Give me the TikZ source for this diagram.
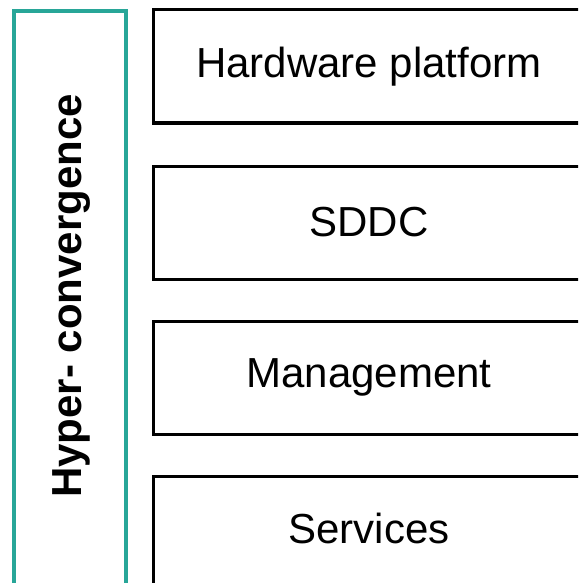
\documentclass[tikz,border=0pt]{standalone}
\usepackage{fontspec}
\setmainfont{Liberation Sans}
\definecolor{hcteal}{RGB}{40,166,152}
\begin{document}
\begin{tikzpicture}[x=1pt,y=-1pt,
  layerbox/.style={draw=black,line width=3pt,rectangle,minimum width=434pt,minimum height=113pt,inner sep=0pt,anchor=north west},
  hcbox/.style={draw=hcteal,line width=3.6pt,rectangle,minimum width=112pt,minimum height=590pt,inner sep=0pt,anchor=north west},
  lbl/.style={font=\fontsize{42}{50}\selectfont,anchor=base,inner sep=0pt}]
\useasboundingbox (0,0) rectangle (578,583);
\clip (0,0) rectangle (578,583);
\node[hcbox] (hc) at (12,9) {};
\node[layerbox] (b1) at (152,8.5) {};
\node[layerbox] (b2) at (152,165) {};
\node[layerbox] (b3) at (152,320) {};
\node[layerbox] (b4) at (152,475) {};
\node[lbl] (t1) at (369,78) {Hardware platform};
\node[lbl] (t2) at (369,236) {SDDC};
\node[lbl] (t3) at (369,387) {Management};
\node[lbl] (t4) at (369,543) {Services};
\node[lbl,font=\fontsize{42}{50}\selectfont\bfseries,rotate=90] (th) at (81,296) {Hyper- convergence};
\end{tikzpicture}
\end{document}
